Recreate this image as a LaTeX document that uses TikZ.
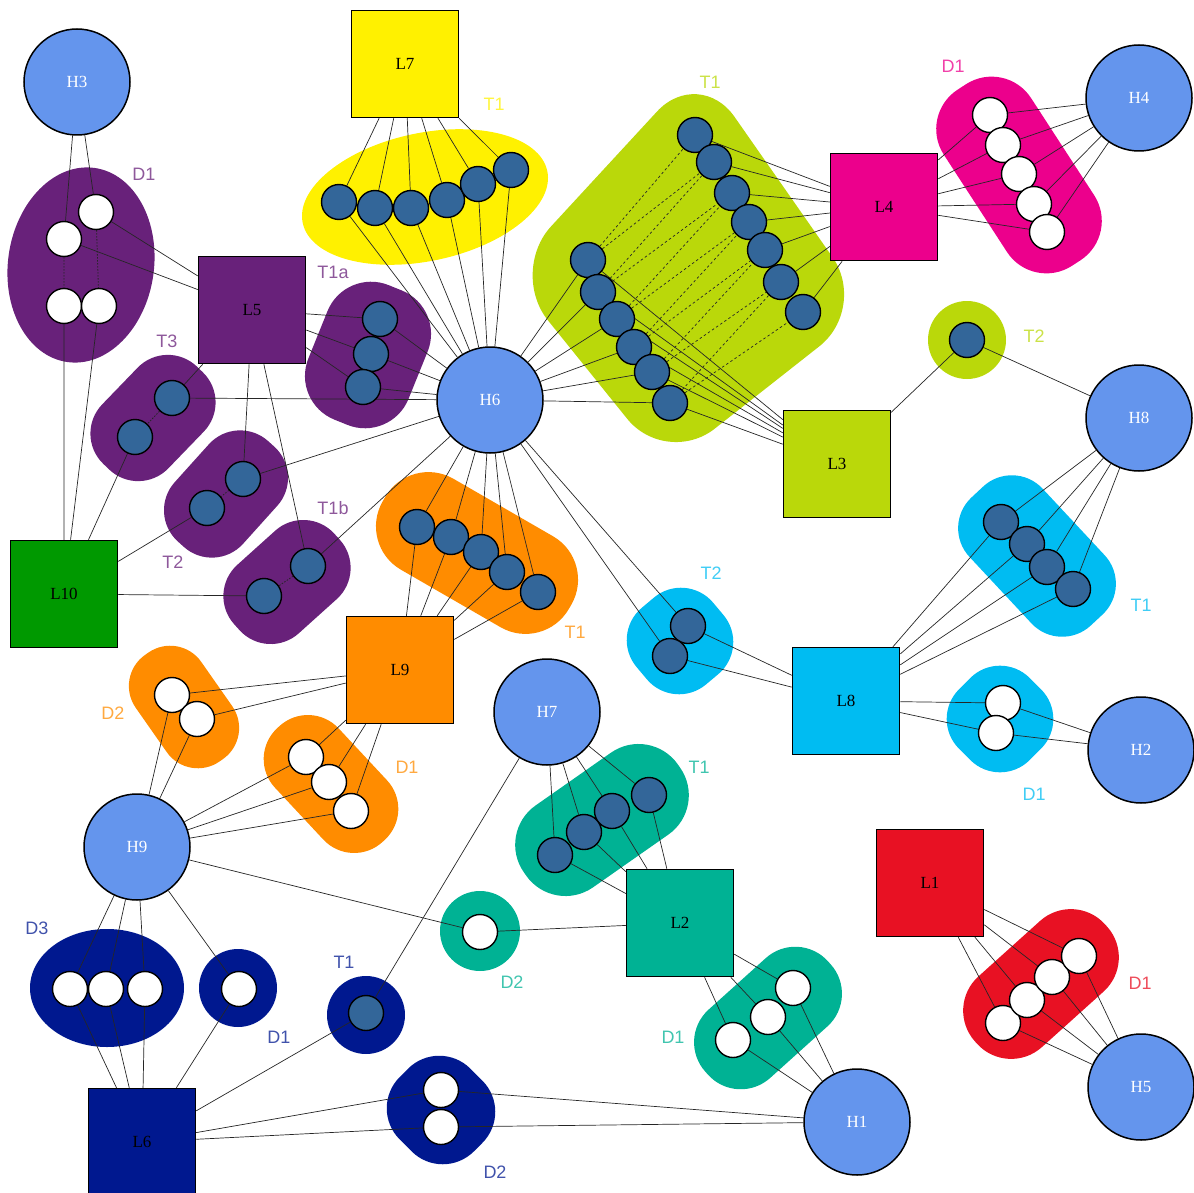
\documentclass[tikz,border=0pt]{standalone}
\usepackage{fontspec}
\setmainfont{Liberation Serif}
\setsansfont{Liberation Sans}
\usepackage{xcolor}
\usetikzlibrary{shapes.geometric}

\definecolor{hostblue}{HTML}{6495ED}
\definecolor{trblue}{HTML}{336699}
\definecolor{ye}{HTML}{FFF100}
\definecolor{pu}{HTML}{68217A}
\definecolor{ma}{HTML}{EC008C}
\definecolor{li}{HTML}{BAD80A}
\definecolor{gn}{HTML}{009900}
\definecolor{og}{HTML}{FF8C00}
\definecolor{cy}{HTML}{00BCF2}
\definecolor{rd}{HTML}{E81123}
\definecolor{te}{HTML}{00B294}
\definecolor{nv}{HTML}{00188F}

\pgfdeclarelayer{blobs}
\pgfdeclarelayer{wires}
\pgfsetlayers{blobs,wires,main}

\tikzset{
	host/.style={circle, draw=black, line width=1.5pt, fill=hostblue, minimum size=106pt, inner sep=0pt, text=white, font=\fontsize{17}{20}\selectfont},
	lnk/.style={rectangle, draw=black, line width=1.5pt, minimum size=107pt, inner sep=0pt, font=\fontsize{17}{20}\selectfont},
	tr/.style={circle, draw=black, line width=1.4pt, fill=trblue, minimum size=35pt, inner sep=0pt},
	dm/.style={tr, fill=white},
	blob/.style={draw=none, inner sep=0pt},
	grp/.style={font=\sffamily\fontsize{18}{21}\selectfont, text=#1!75},
	wire/.style={line width=0.7pt, black!85},
	dotwire/.style={line width=0.8pt, black!85, dash pattern=on 1.5pt off 1.5pt},
	dashwire/.style={line width=0.7pt, black!85, dash pattern=on 2.5pt off 2.5pt}
}

\begin{document}
\begin{tikzpicture}[x=1pt, y=-1pt]
				\useasboundingbox (0,0) rectangle (1194,1193);
				
				\node[host] (H3) at (77,82) {H3};
				\node[host] (H6) at (490,400) {H6};
				\node[host] (H4) at (1139,98) {H4};
				\node[host] (H8) at (1139,418) {H8};
				\node[host] (H7) at (547,712) {H7};
				\node[host] (H2) at (1141,750) {H2};
				\node[host] (H9) at (137,847) {H9};
				\node[host] (H1) at (857,1122) {H1};
				\node[host] (H5) at (1141,1087) {H5};
				
				\node[lnk, fill=ye] (L7) at (405,64) {L7};
				\node[lnk, fill=pu] (L5) at (252,310) {L5};
				\node[lnk, fill=ma] (L4) at (884,207) {L4};
				\node[lnk, fill=li] (L3) at (837,464) {L3};
				\node[lnk, fill=gn] (L10) at (64,594) {L10};
				\node[lnk, fill=og] (L9) at (400,670) {L9};
				\node[lnk, fill=cy] (L8) at (846,701) {L8};
				\node[lnk, fill=rd] (L1) at (930,883) {L1};
				\node[lnk, fill=te] (L2) at (680,923) {L2};
				\node[lnk, fill=nv] (L6) at (142,1142) {L6};
				
				\foreach \x/\y [count=\i] in {96/212,64/239,64/306,99/306} \node[dm] (puD1-\i) at (\x,\y) {};
				\foreach \x/\y [count=\i] in {339/202,375/208,411/208,447/200,478/184,511/170} \node[tr] (yeT1-\i) at (\x,\y) {};
				\foreach \x/\y [count=\i] in {380/319,371/354,363/387} \node[tr] (puT1a-\i) at (\x,\y) {};
				\foreach \x/\y [count=\i] in {172/398,135/437} \node[tr] (puT3-\i) at (\x,\y) {};
				\foreach \x/\y [count=\i] in {243/479,207/508} \node[tr] (puT2-\i) at (\x,\y) {};
				\foreach \x/\y [count=\i] in {308/566,264/596} \node[tr] (puT1b-\i) at (\x,\y) {};
				\foreach \x/\y [count=\i] in {588/260,598/292,617/319,634/347,652/372,670/403} \node[tr] (liL-\i) at (\x,\y) {};
				\foreach \x/\y [count=\i] in {695/135,714/162,732/193,749/222,765/250,781/282,803/312} \node[tr] (liR-\i) at (\x,\y) {};
				\foreach \x/\y [count=\i] in {990/115,1003/145,1019/174,1034/204,1047/232} \node[dm] (maD1-\i) at (\x,\y) {};
				\node[tr] (liT2) at (967,340) {};
				\foreach \x/\y [count=\i] in {1001/522,1027/544,1047/567,1073/589} \node[tr] (cyT1-\i) at (\x,\y) {};
				\foreach \x/\y [count=\i] in {1003/703,996/733} \node[dm] (cyD1-\i) at (\x,\y) {};
				\foreach \x/\y [count=\i] in {688/626,670/656} \node[tr] (cyT2-\i) at (\x,\y) {};
				\foreach \x/\y [count=\i] in {417/527,451/537,481/552,507/572,538/592} \node[tr] (ogT1-\i) at (\x,\y) {};
				\foreach \x/\y [count=\i] in {172/695,197/719} \node[dm] (ogD2-\i) at (\x,\y) {};
				\foreach \x/\y [count=\i] in {306/757,329/782,351/811} \node[dm] (ogD1-\i) at (\x,\y) {};
				\foreach \x/\y [count=\i] in {555/855,584/832,612/811,649/795} \node[tr] (teT1-\i) at (\x,\y) {};
				\node[dm] (teD2) at (480,932) {};
				\foreach \x/\y [count=\i] in {733/1040,768/1017,793/988} \node[dm] (teD1-\i) at (\x,\y) {};
				\foreach \x/\y [count=\i] in {1003/1023,1027/1000,1052/977,1079/956} \node[dm] (rdD1-\i) at (\x,\y) {};
				\foreach \x/\y [count=\i] in {70/989,106/989,145/989} \node[dm] (nvD3-\i) at (\x,\y) {};
				\node[dm] (nvD1) at (239,989) {};
				\node[tr] (nvT1) at (366,1013) {};
				\foreach \x/\y [count=\i] in {441/1090,441/1127} \node[dm] (nvD2-\i) at (\x,\y) {};
				
				\node[grp=pu] (labPuD1) at (144,174) {D1};
				\node[grp=ye] (labYeT1) at (494,104) {T1};
				\node[grp=pu] (labPuT1a) at (333,272) {T1a};
				\node[grp=pu] (labPuT3) at (167,341) {T3};
				\node[grp=pu] (labPuT2) at (173,562) {T2};
				\node[grp=pu] (labPuT1b) at (333,508) {T1b};
				\node[grp=li] (labLiT1) at (710,82) {T1};
				\node[grp=ma] (labMaD1) at (953,66) {D1};
				\node[grp=li] (labLiT2) at (1034,336) {T2};
				\node[grp=cy] (labCyT1) at (1141,605) {T1};
				\node[grp=cy] (labCyD1) at (1034,794) {D1};
				\node[grp=cy] (labCyT2) at (711,573) {T2};
				\node[grp=og] (labOgT1) at (575,632) {T1};
				\node[grp=og] (labOgD2) at (113,713) {D2};
				\node[grp=og] (labOgD1) at (407,767) {D1};
				\node[grp=te] (labTeT1) at (699,767) {T1};
				\node[grp=te] (labTeD2) at (512,982) {D2};
				\node[grp=te] (labTeD1) at (673,1037) {D1};
				\node[grp=rd] (labRdD1) at (1140,983) {D1};
				\node[grp=nv] (labNvD3) at (37,928) {D3};
				\node[grp=nv] (labNvD1) at (279,1037) {D1};
				\node[grp=nv] (labNvT1) at (344,962) {T1};
				\node[grp=nv] (labNvD2) at (495,1172) {D2};
				
				\begin{pgfonlayer}{blobs}
					\node[blob, ellipse, fill=pu, minimum width=146pt, minimum height=196pt, rotate=-8] (bPuD1) at (81,265) {};
					\node[blob, ellipse, fill=ye, minimum width=250pt, minimum height=128pt, rotate=12] (bYeT1) at (425,197) {};
					\node[blob, fill=pu, rounded corners=47pt, minimum width=108pt, minimum height=145pt, rotate=-22] (bPuT1a) at (368,355) {};
					\node[blob, fill=pu, rounded corners=42pt, minimum width=135pt, minimum height=92pt, rotate=46] (bPuT3) at (153,418) {};
					\node[blob, fill=pu, rounded corners=42pt, minimum width=135pt, minimum height=92pt, rotate=48] (bPuT2) at (226,494) {};
					\node[blob, fill=pu, rounded corners=42pt, minimum width=135pt, minimum height=92pt, rotate=42] (bPuT1b) at (287,582) {};
					\fill[li, rounded corners=62pt] (699,66) -- (868,308) -- (666,467) -- (509,272) -- cycle;
					\node[blob, fill=ma, rounded corners=47pt, minimum width=210pt, minimum height=104pt, rotate=-57] (bMaD1) at (1019,175) {};
					\node[blob, circle, fill=li, minimum size=78pt] (bLiT2) at (967,340) {};
					\node[blob, fill=cy, rounded corners=42pt, minimum width=175pt, minimum height=100pt, rotate=-47] (bCyT1) at (1037,556) {};
					\node[blob, fill=cy, rounded corners=42pt, minimum width=100pt, minimum height=100pt, rotate=45] (bCyD1) at (1000,719) {};
					\node[blob, fill=cy, rounded corners=42pt, minimum width=100pt, minimum height=100pt, rotate=40] (bCyT2) at (680,641) {};
					\node[blob, fill=og, rounded corners=50pt, minimum width=215pt, minimum height=105pt, rotate=-30] (bOgT1) at (477,553) {};
					\node[blob, fill=og, rounded corners=38pt, minimum width=130pt, minimum height=80pt, rotate=-55] (bOgD2) at (184,707) {};
					\node[blob, fill=og, rounded corners=42pt, minimum width=155pt, minimum height=87pt, rotate=-47] (bOgD1) at (331,784) {};
					\node[blob, fill=te, rounded corners=48pt, minimum width=188pt, minimum height=100pt, rotate=35] (bTeT1) at (602,820) {};
					\node[blob, circle, fill=te, minimum size=80pt] (bTeD2) at (480,931) {};
					\node[blob, fill=te, rounded corners=44pt, minimum width=165pt, minimum height=92pt, rotate=42] (bTeD1) at (768,1018) {};
					\node[blob, fill=rd, rounded corners=46pt, minimum width=175pt, minimum height=95pt, rotate=42] (bRdD1) at (1041,984) {};
					\node[blob, ellipse, fill=nv, minimum width=154pt, minimum height=118pt] (bNvD3) at (107,988) {};
					\node[blob, circle, fill=nv, minimum size=78pt] (bNvD1) at (238,988) {};
					\node[blob, circle, fill=nv, minimum size=78pt] (bNvT1) at (366,1015) {};
					\node[blob, fill=nv, rounded corners=44pt, minimum width=100pt, minimum height=105pt, rotate=45] (bNvD2) at (441,1110) {};
				\end{pgfonlayer}
				
				\begin{pgfonlayer}{wires}
					\draw[wire] (H3) -- (puD1-1) (H3) -- (puD1-2) (puD1-1) -- (L5) (puD1-2) -- (L5) (puD1-3) -- (L10) (puD1-4) -- (L10);
					\draw[dotwire] (puD1-2) -- (puD1-3) (puD1-1) -- (puD1-4);
					\foreach \i in {1,...,6} \draw[wire] (yeT1-\i) -- (L7) (yeT1-\i) -- (H6);
					\foreach \i in {1,2,3} \draw[wire] (puT1a-\i) -- (L5) (puT1a-\i) -- (H6);
					\draw[wire] (puT3-1) -- (L5) (puT3-1) -- (H6) (puT3-2) -- (L10);
					\draw[wire] (puT2-1) -- (L5) (puT2-1) -- (H6) (puT2-2) -- (L10);
					\draw[wire] (puT1b-1) -- (L5) (puT1b-1) -- (H6) (puT1b-2) -- (L10);
					\draw[dotwire] (puT3-1) -- (puT3-2) (puT2-1) -- (puT2-2) (puT1b-1) -- (puT1b-2);
					\foreach \i in {1,...,6} \draw[wire] (liL-\i) -- (H6) (liL-\i) -- (L3);
					\foreach \i in {1,...,7} \draw[wire] (liR-\i) -- (L4);
					\foreach \i in {1,...,6} {
						\pgfmathtruncatemacro{\j}{\i+1}
						\draw[dashwire] (liL-\i) -- (liR-\i) (liL-\i) -- (liR-\j);
					}
					\draw[wire] (liT2) -- (L3) (liT2) -- (H8);
					\foreach \i in {1,...,5} \draw[wire] (maD1-\i) -- (L4) (maD1-\i) -- (H4);
					\foreach \i in {1,...,4} \draw[wire] (cyT1-\i) -- (H8) (cyT1-\i) -- (L8);
					\foreach \i in {1,2} \draw[wire] (cyD1-\i) -- (L8) (cyD1-\i) -- (H2);
					\foreach \i in {1,2} \draw[wire] (cyT2-\i) -- (H6) (cyT2-\i) -- (L8);
					\foreach \i in {1,...,5} \draw[wire] (ogT1-\i) -- (H6) (ogT1-\i) -- (L9);
					\foreach \i in {1,2} \draw[wire] (ogD2-\i) -- (L9) (ogD2-\i) -- (H9);
					\foreach \i in {1,2,3} \draw[wire] (ogD1-\i) -- (L9) (ogD1-\i) -- (H9);
					\foreach \i in {1,...,4} \draw[wire] (teT1-\i) -- (H7) (teT1-\i) -- (L2);
					\draw[wire] (teD2) -- (H9) (teD2) -- (L2);
					\foreach \i in {1,2,3} \draw[wire] (teD1-\i) -- (L2) (teD1-\i) -- (H1);
					\foreach \i in {1,...,4} \draw[wire] (rdD1-\i) -- (L1) (rdD1-\i) -- (H5);
					\foreach \i in {1,2,3} \draw[wire] (nvD3-\i) -- (H9) (nvD3-\i) -- (L6);
					\draw[wire] (nvD1) -- (H9) (nvD1) -- (L6) (nvT1) -- (H7) (nvT1) -- (L6);
					\foreach \i in {1,2} \draw[wire] (nvD2-\i) -- (L6) (nvD2-\i) -- (H1);
				\end{pgfonlayer}
\end{tikzpicture}
\end{document}
